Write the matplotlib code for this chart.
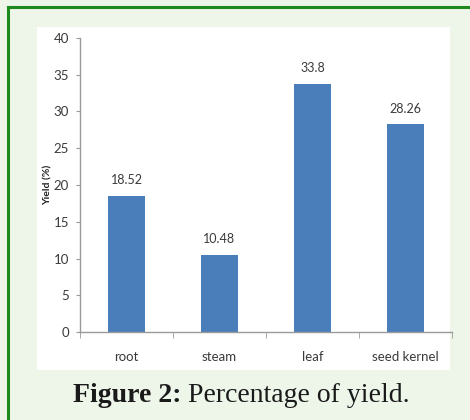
import numpy as np
import matplotlib.pyplot as plt
from matplotlib.patches import Rectangle
from matplotlib.lines import Line2D

parts = ['root', 'steam', 'leaf', 'seed kernel']
yield_pct = [18.52, 10.48, 33.8, 28.26]
value_labels = ['18.52', '10.48', '33.8', '28.26']
yticks = [0, 5, 10, 15, 20, 25, 30, 35, 40]

W, H = 470, 420
fig = plt.figure(figsize=(W / 100, H / 100), dpi=100)
fig.patch.set_facecolor('#eef6ea')

def px(x, y):
    # pixel position (from top-left) -> figure fraction
    return x / W, 1 - y / H

# white panel behind the chart
x0, y0 = px(37, 370)
x1, y1 = px(450, 27)
fig.add_artist(Rectangle((x0, y0), x1 - x0, y1 - y0, transform=fig.transFigure,
                         facecolor='white', edgecolor='none', zorder=0))

# green frame (top and left edge)
fig.add_artist(Line2D([8 / W, 1], [1 - 7 / H] * 2, transform=fig.transFigure,
                      color='#1e8a1e', lw=2.2))
fig.add_artist(Line2D([8 / W] * 2, [1 - 7 / H, 0], transform=fig.transFigure,
                      color='#1e8a1e', lw=2.2))

ax = fig.add_axes([80 / W, 1 - 332 / H, 372 / W, 294 / H])
ax.set_facecolor('none')

x = np.arange(len(parts))
bars = ax.bar(x, yield_pct, width=0.4, color='#4a7ebb', zorder=2)

tick_font = ['Lato', 'DejaVu Sans']
for xi, v, lab in zip(x, yield_pct, value_labels):
    ax.text(xi, v + 1.3, lab, ha='center', va='bottom', fontsize=9,
            color='#3a3a3a', family=tick_font)

ax.set_xlim(-0.5, 3.5)
ax.set_ylim(0, 40)
ax.set_yticks(yticks)
ax.set_xticks(x)
ax.set_xticklabels(parts)
ax.set_xticks(np.arange(-0.5, 4, 1), minor=True)

for s in ['top', 'right']:
    ax.spines[s].set_visible(False)
for s in ['left', 'bottom']:
    ax.spines[s].set_color('#9a9a9a')
    ax.spines[s].set_linewidth(1)

ax.tick_params(axis='y', length=3, color='#9a9a9a', labelsize=9.5,
               labelcolor='#3a3a3a', pad=5)
ax.tick_params(axis='x', which='major', length=0, labelsize=9.5,
               labelcolor='#3a3a3a', pad=14)
ax.tick_params(axis='x', which='minor', length=4, color='#9a9a9a')
for lab in ax.get_xticklabels() + ax.get_yticklabels():
    lab.set_family(tick_font)

ax.set_ylabel('Yield (%)', fontsize=7.5, fontweight='bold', color='#222222',
              family=tick_font)
ax.yaxis.label.set_va('center')
ax.yaxis.set_label_coords(-32 / 372, 0.5)

# caption
cx, cy = px(73, 395)
t = fig.text(cx, cy, 'Figure 2:', fontsize=20, fontweight='bold',
             family='Liberation Serif', color='#1a1a1a', va='center', ha='left')
fig.canvas.draw()
bb = t.get_window_extent()
fig.text((bb.x1 + 7) / W, cy, 'Percentage of yield.', fontsize=20,
         family='Liberation Serif', color='#1a1a1a', va='center', ha='left')

fig.savefig('out.png', dpi=100, facecolor=fig.get_facecolor())
